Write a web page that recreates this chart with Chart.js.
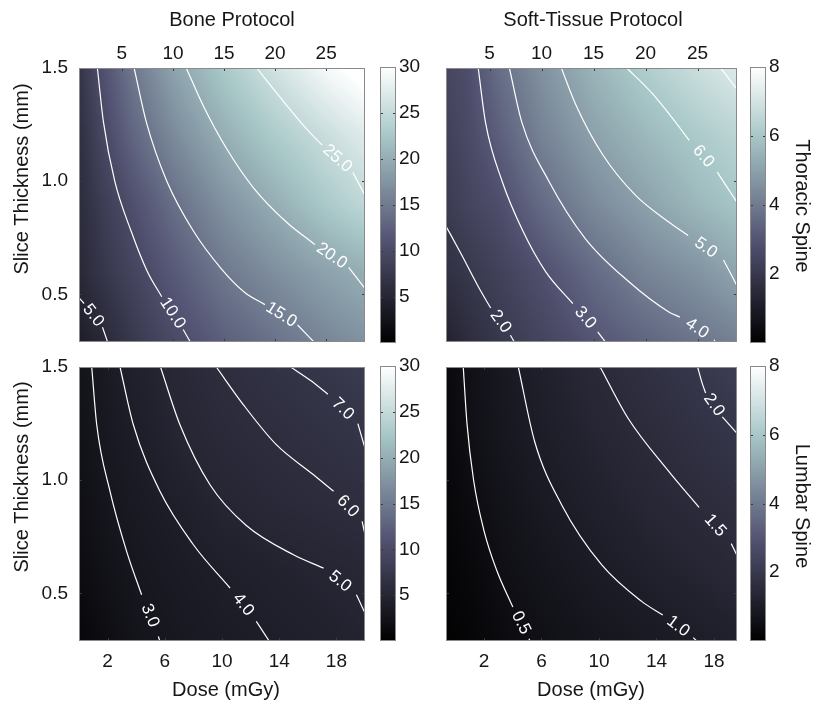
<!DOCTYPE html>
<html>
<head>
<meta charset="utf-8">
<script src="https://cdn.jsdelivr.net/npm/chart.js@4.4.0/dist/chart.umd.min.js"></script>
<style>
  html, body { margin: 0; padding: 0; background: #fff; }
  #wrap { position: relative; width: 815px; height: 705px; }
  #wrap canvas { position: absolute; left: 0; top: 0; }
</style>
</head>
<body>
<div id="wrap">
  <canvas id="tl" width="815" height="705"></canvas>
  <canvas id="tr" width="815" height="705"></canvas>
  <canvas id="bl" width="815" height="705"></canvas>
  <canvas id="br" width="815" height="705"></canvas>
  <canvas id="cbTl" width="815" height="705"></canvas>
  <canvas id="cbTr" width="815" height="705"></canvas>
  <canvas id="cbBl" width="815" height="705"></canvas>
  <canvas id="cbBr" width="815" height="705"></canvas>
</div>
<script>
// ---- axes ----
const thickRange = [0.29, 1.5];
const thickTicks = [0.5, 1.0, 1.5];
const doseTopRange = [0.8, 28.8];
const doseTopTicks = [5, 10, 15, 20, 25];
const doseBoneBottomRange = [0, 20];
const doseSoftBottomRange = [-0.64, 19.6];
const doseBottomTicks = [2, 6, 10, 14, 18];
const boneBarTicks = [5, 10, 15, 20, 25, 30];
const softBarTicks = [2, 4, 6, 8];

// ---- background values (rows = thickness, cols = dose) ----
const gridThick = [0.29, 0.6, 0.9, 1.2, 1.5];
const gridDoseTop = [0.8, 3, 6, 10, 15, 20, 25, 28.8];
const gridDoseBoneBottom = [0, 2, 4, 7, 10, 14, 18, 20];
const gridDoseSoftBottom = [-0.64, 1.38, 3.41, 6.44, 9.48, 13.52, 17.57, 19.6];

const thoracicBone = [
  [4.0, 5.2, 7.5, 9.9, 12.3, 14.2, 16.1, 17.3],
  [5.3, 7.2, 9.1, 11.7, 14.8, 17.0, 18.9, 20.1],
  [5.9, 8.0, 10.6, 13.8, 17.3, 20.0, 22.8, 24.6],
  [6.3, 9.4, 12.9, 16.5, 20.1, 23.0, 25.4, 27.2],
  [7.0, 10.6, 14.7, 18.9, 22.7, 26.1, 29.2, 31.0]
];
const thoracicSoft = [
  [1.2, 1.6, 2.0, 2.45, 3.0, 3.45, 3.85, 4.15],
  [1.75, 2.0, 2.35, 2.85, 3.6, 4.25, 4.65, 5.1],
  [2.1, 2.45, 2.8, 3.6, 4.4, 5.0, 5.6, 5.95],
  [2.3, 2.65, 3.3, 4.2, 5.0, 5.6, 6.1, 6.45],
  [2.5, 2.8, 3.7, 4.6, 5.5, 6.2, 6.8, 7.2]
];
const lumbarBone = [
  [1.0, 1.8, 2.6, 3.2, 3.6, 4.05, 4.5, 4.75],
  [1.6, 2.4, 3.05, 3.6, 4.1, 4.6, 5.05, 5.25],
  [2.0, 2.9, 3.45, 4.2, 4.95, 5.55, 5.95, 6.15],
  [2.3, 3.25, 3.95, 4.98, 5.6, 6.12, 6.75, 7.05],
  [2.5, 3.55, 4.4, 5.35, 6.07, 6.85, 7.5, 7.8]
];
const lumbarSoft = [
  [0.08, 0.22, 0.4, 0.58, 0.74, 0.9, 1.07, 1.15],
  [0.15, 0.33, 0.54, 0.76, 0.95, 1.16, 1.35, 1.45],
  [0.25, 0.45, 0.68, 0.94, 1.14, 1.38, 1.57, 1.66],
  [0.3, 0.58, 0.82, 1.07, 1.3, 1.55, 1.8, 1.92],
  [0.35, 0.63, 0.88, 1.18, 1.45, 1.74, 2.03, 2.15]
];

// ---- contour lines [dose, thickness]; null = where the inline label sits ----
const thoracicBoneLines = [
  { label: "25.0", pts: [[18.2,1.5],[20.5,1.37],[23.1,1.23],[24.6,1.16],null,[27.6,1.04],[28.9,0.93]] },
  { label: "20.0", pts: [[11.3,1.5],[13.0,1.33],[15.3,1.14],[17.9,0.97],[21.1,0.82],[23.9,0.72],null,[27.2,0.62],[28.9,0.52]] },
  { label: "15.0", pts: [[6.2,1.5],[7.4,1.26],[9.4,1.0],[12.0,0.78],[14.8,0.61],[17.0,0.51],[19.0,0.455],null,[22.2,0.365],[23.8,0.29]] },
  { label: "10.0", pts: [[2.6,1.5],[3.2,1.26],[4.3,1.0],[5.9,0.78],[7.5,0.6],[8.9,0.49],null,[11.0,0.345],[11.7,0.29]] },
  { label: "5.0", pts: [[0.7,0.49],[1.3,0.46],null,[3.1,0.355],[3.6,0.29]] }
];
const thoracicSoftLines = [
  { label: "", pts: [[26.9,1.52],[28.9,1.40]] },
  { label: "6.0", pts: [[18.2,1.5],[20.6,1.39],[22.9,1.26],[24.2,1.18],null,[26.9,1.04],[28.9,0.9]] },
  { label: "5.0", pts: [[11.9,1.5],[13.3,1.337],[15.9,1.116],[19.0,0.94],[22.2,0.821],[24.1,0.76],null,[27.5,0.652],[28.9,0.53]] },
  { label: "4.0", pts: [[6.9,1.5],[8.1,1.26],[10.7,1.0],[14.2,0.747],[18.4,0.556],[22.2,0.424],[23.3,0.4],null,[26.6,0.30],[26.8,0.28]] },
  { label: "3.0", pts: [[3.9,1.5],[4.6,1.26],[6.2,1.0],[8.2,0.78],[10.4,0.6],[13.0,0.46],null,[15.4,0.335],[16.3,0.28]] },
  { label: "2.0", pts: [[0.7,0.81],[2.3,0.675],[3.9,0.535],[5.1,0.44],null,[7.0,0.32],[7.5,0.28]] }
];
const lumbarBoneLines = [
  { label: "7.0", pts: [[14.8,1.5],[16.2,1.44],[17.4,1.38],null,[19.5,1.25],[20.1,1.12]] },
  { label: "6.0", pts: [[9.6,1.5],[11.5,1.333],[13.8,1.157],[16.4,1.024],[17.8,0.951],null,[19.8,0.818],[20.1,0.73]] },
  { label: "5.0", pts: [[5.7,1.5],[7.06,1.245],[9.16,0.98],[11.7,0.80],[15.0,0.671],[17.1,0.612],null,[19.4,0.494],[20.1,0.40]] },
  { label: "4.0", pts: [[2.87,1.5],[3.8,1.245],[5.66,0.951],[8.0,0.715],[10.56,0.524],null,[12.4,0.377],[13.4,0.28]] },
  { label: "3.0", pts: [[0.89,1.5],[1.24,1.245],[2.17,0.951],[3.33,0.686],[4.38,0.494],null,[5.55,0.31],[5.7,0.28]] }
];
const lumbarSoftLines = [
  { label: "2.0", pts: [[16.86,1.5],[17.17,1.43],[17.42,1.385],null,[18.58,1.28],[19.7,1.2]] },
  { label: "1.5", pts: [[10.08,1.5],[12.01,1.275],[14.84,1.04],[16.96,0.88],null,[19.2,0.72],[19.7,0.655]] },
  { label: "1.0", pts: [[4.39,1.5],[5.53,1.17],[7.4,0.892],[10.18,0.627],[12.97,0.465],[14.44,0.405],null,[16.56,0.305],[16.96,0.28]] },
  { label: "0.5", pts: [[0.56,1.5],[0.82,1.25],[1.28,1.0],[1.99,0.78],[2.9,0.6],[4.01,0.44],null,[5.13,0.30],[5.28,0.28]] }
];

// ---- styling helpers ----
const FONT = "'Liberation Sans', Arial, sans-serif";
const INK = "#161616";

function bone(f) {
  f = Math.min(1, Math.max(0, f));
  const r = Math.min(1, f / 0.375);
  const g = Math.min(1, Math.max(0, (f - 0.375) / 0.375));
  const b = Math.max(0, (f - 0.75) / 0.25);
  return [(7 * f + b) / 8 * 255, (7 * f + g) / 8 * 255, (7 * f + r) / 8 * 255];
}

function lookup(xs, ys, z, x, y) {
  let i = 0, j = 0;
  while (i < xs.length - 2 && x > xs[i + 1]) i++;
  while (j < ys.length - 2 && y > ys[j + 1]) j++;
  const u = Math.min(1, Math.max(0, (x - xs[i]) / (xs[i + 1] - xs[i])));
  const v = Math.min(1, Math.max(0, (y - ys[j]) / (ys[j + 1] - ys[j])));
  return z[j][i] * (1 - u) * (1 - v) + z[j][i + 1] * u * (1 - v) +
         z[j + 1][i] * (1 - u) * v + z[j + 1][i + 1] * u * v;
}

function fieldPlugin(xs, ys, z, vmax) {
  return {
    id: "field",
    beforeDatasetsDraw(chart) {
      const a = chart.chartArea, sx = chart.scales.x, sy = chart.scales.y;
      const w = Math.round(a.right - a.left), h = Math.round(a.bottom - a.top);
      const off = document.createElement("canvas");
      off.width = w; off.height = h;
      const octx = off.getContext("2d");
      const img = octx.createImageData(w, h);
      for (let py = 0; py < h; py++) {
        const t = sy.getValueForPixel(a.top + py + 0.5);
        for (let px = 0; px < w; px++) {
          const d = sx.getValueForPixel(a.left + px + 0.5);
          const c = bone(lookup(xs, ys, z, d, t) / vmax);
          const k = (py * w + px) * 4;
          img.data[k] = c[0]; img.data[k + 1] = c[1]; img.data[k + 2] = c[2]; img.data[k + 3] = 255;
        }
      }
      octx.putImageData(img, 0, 0);
      chart.ctx.drawImage(off, a.left, a.top);
    }
  };
}

// inline contour labels, centred in the gap left in each line
const contourLabels = {
  id: "contourLabels",
  afterDatasetsDraw(chart) {
    const ctx = chart.ctx, sx = chart.scales.x, sy = chart.scales.y;
    chart.data.datasets.forEach(ds => {
      const i = ds.data.findIndex(p => p.x === null);
      if (i < 1 || !ds.label) return;
      const p1 = ds.data[i - 1], p2 = ds.data[i + 1];
      const x1 = sx.getPixelForValue(p1.x), y1 = sy.getPixelForValue(p1.y);
      const x2 = sx.getPixelForValue(p2.x), y2 = sy.getPixelForValue(p2.y);
      let ang = Math.atan2(y2 - y1, x2 - x1);
      if (ang > Math.PI / 2) ang -= Math.PI;
      if (ang < -Math.PI / 2) ang += Math.PI;
      ctx.save();
      ctx.translate((x1 + x2) / 2, (y1 + y2) / 2);
      ctx.rotate(ang);
      ctx.fillStyle = "#fff";
      ctx.font = "17px " + FONT;
      ctx.textAlign = "center";
      ctx.textBaseline = "middle";
      ctx.fillText(ds.label, 0, 0);
      ctx.restore();
    });
  }
};

// box with small inward tick marks on every side
const frame = {
  id: "frame",
  afterDraw(chart) {
    const ctx = chart.ctx, a = chart.chartArea;
    ctx.save();
    ctx.strokeStyle = "#3a3a3a";
    ctx.lineWidth = 1;
    ctx.beginPath();
    const sx = chart.scales.x, sy = chart.scales.y;
    if (sx.options.display !== false) {
      sx.ticks.forEach(t => {
        const x = Math.round(sx.getPixelForValue(t.value)) + 0.5;
        ctx.moveTo(x, a.top); ctx.lineTo(x, a.top + 3);
        ctx.moveTo(x, a.bottom); ctx.lineTo(x, a.bottom - 3);
      });
    }
    sy.ticks.forEach(t => {
      const y = Math.round(sy.getPixelForValue(t.value)) + 0.5;
      ctx.moveTo(a.left, y); ctx.lineTo(a.left + 3, y);
      ctx.moveTo(a.right, y); ctx.lineTo(a.right - 3, y);
    });
    ctx.stroke();
    ctx.strokeStyle = "#8a8a8a";
    ctx.strokeRect(a.left + 0.5, a.top + 0.5, a.right - a.left - 1, a.bottom - a.top - 1);
    ctx.restore();
  }
};

// free text (titles), placed relative to the chart area
function textPlugin(items) {
  return {
    id: "texts",
    afterDraw(chart) {
      const ctx = chart.ctx, a = chart.chartArea;
      items.forEach(it => {
        ctx.save();
        ctx.translate(a.left + it.dx, a.top + it.dy);
        ctx.rotate(it.rot || 0);
        ctx.fillStyle = INK;
        ctx.font = (it.size || 20) + "px " + FONT;
        ctx.textAlign = "center";
        ctx.textBaseline = "middle";
        ctx.fillText(it.text, 0, 0);
        ctx.restore();
      });
    }
  };
}

const tickFont = { family: FONT, size: 19 };

function panel(id, o) {
  const top = o.xPos === "top";
  return new Chart(document.getElementById(id), {
    type: "scatter",
    data: {
      datasets: o.lines.map(c => ({
        label: c.label,
        data: c.pts.map(p => p ? { x: p[0], y: p[1] } : { x: null, y: null }),
        showLine: true,
        borderColor: "#ffffff",
        borderWidth: 1.2,
        pointRadius: 0,
        cubicInterpolationMode: "monotone",
        spanGaps: false,
        clip: 0
      }))
    },
    options: {
      responsive: false,
      animation: false,
      devicePixelRatio: 1,
      events: [],
      layout: { padding: o.pad },
      plugins: { legend: { display: false }, tooltip: { enabled: false } },
      scales: {
        x: {
          type: "linear",
          position: o.xPos,
          min: o.xRange[0], max: o.xRange[1],
          afterBuildTicks: s => { s.ticks = o.xTicks.map(v => ({ value: v })); },
          afterFit: s => { s.height = 30; },
          grid: { display: false, drawTicks: false },
          border: { display: false },
          ticks: { font: tickFont, color: INK, padding: top ? 3 : 9, maxRotation: 0 }
        },
        y: {
          type: "linear",
          min: thickRange[0], max: thickRange[1],
          afterBuildTicks: s => { s.ticks = thickTicks.map(v => ({ value: v })); },
          afterFit: s => { s.width = o.yLabels ? 45 : 10; },
          grid: { display: false, drawTicks: false },
          border: { display: false },
          ticks: { display: o.yLabels, font: tickFont, color: INK, padding: 11, callback: v => v.toFixed(1) }
        }
      }
    },
    plugins: [fieldPlugin(o.gx, gridThick, o.z, o.vmax), contourLabels, frame, textPlugin(o.texts)]
  });
}

function colorBar(id, o) {
  return new Chart(document.getElementById(id), {
    type: "scatter",
    data: { datasets: [] },
    options: {
      responsive: false,
      animation: false,
      devicePixelRatio: 1,
      events: [],
      layout: { padding: o.pad },
      plugins: { legend: { display: false }, tooltip: { enabled: false } },
      scales: {
        x: { display: false, min: 0, max: 1 },
        y: {
          position: "right",
          min: 0, max: o.vmax,
          afterBuildTicks: s => { s.ticks = o.ticks.map(v => ({ value: v })); },
          afterFit: s => { s.width = 40; },
          grid: { display: false, drawTicks: false },
          border: { display: false },
          ticks: { font: tickFont, color: INK, padding: 3 }
        }
      }
    },
    plugins: [{
      id: "bar",
      beforeDatasetsDraw(chart) {
        const ctx = chart.ctx, a = chart.chartArea, sy = chart.scales.y;
        for (let py = Math.floor(a.top); py < a.bottom; py++) {
          const c = bone(sy.getValueForPixel(py + 0.5) / o.vmax);
          ctx.fillStyle = "rgb(" + c.map(Math.round).join(",") + ")";
          ctx.fillRect(a.left, py, a.right - a.left, 1);
        }
      }
    }, frame, textPlugin(o.texts)]
  });
}

panel("tl", {
  xPos: "top", xRange: doseTopRange, xTicks: doseTopTicks, yLabels: true,
  gx: gridDoseTop, z: thoracicBone, vmax: 30, lines: thoracicBoneLines,
  pad: { left: 34, top: 38, right: 450, bottom: 363 },
  texts: [
    { text: "Bone Protocol", dx: 153, dy: -48 },
    { text: "Slice Thickness (mm)", dx: -57, dy: 111, rot: -Math.PI / 2 }
  ]
});
panel("tr", {
  xPos: "top", xRange: doseTopRange, xTicks: doseTopTicks, yLabels: false,
  gx: gridDoseTop, z: thoracicSoft, vmax: 8, lines: thoracicSoftLines,
  pad: { left: 436, top: 38, right: 78, bottom: 363 },
  texts: [{ text: "Soft-Tissue Protocol", dx: 147, dy: -48 }]
});
panel("bl", {
  xPos: "bottom", xRange: doseBoneBottomRange, xTicks: doseBottomTicks, yLabels: true,
  gx: gridDoseBoneBottom, z: lumbarBone, vmax: 30, lines: lumbarBoneLines,
  pad: { left: 34, top: 367, right: 450, bottom: 34 },
  texts: [
    { text: "Dose (mGy)", dx: 147, dy: 323 },
    { text: "Slice Thickness (mm)", dx: -57, dy: 110, rot: -Math.PI / 2 }
  ]
});
panel("br", {
  xPos: "bottom", xRange: doseSoftBottomRange, xTicks: doseBottomTicks, yLabels: false,
  gx: gridDoseSoftBottom, z: lumbarSoft, vmax: 8, lines: lumbarSoftLines,
  pad: { left: 436, top: 367, right: 78, bottom: 34 },
  texts: [{ text: "Dose (mGy)", dx: 145, dy: 323 }]
});

colorBar("cbTl", { vmax: 30, ticks: boneBarTicks, pad: { left: 380, top: 67, right: 379, bottom: 362 }, texts: [] });
colorBar("cbTr", { vmax: 8, ticks: softBarTicks, pad: { left: 750, top: 67, right: 9, bottom: 362 },
  texts: [{ text: "Thoracic Spine", dx: 52, dy: 139, rot: Math.PI / 2 }] });
colorBar("cbBl", { vmax: 30, ticks: boneBarTicks, pad: { left: 380, top: 366, right: 379, bottom: 64 }, texts: [] });
colorBar("cbBr", { vmax: 8, ticks: softBarTicks, pad: { left: 750, top: 366, right: 9, bottom: 64 },
  texts: [{ text: "Lumbar Spine", dx: 52, dy: 140, rot: Math.PI / 2 }] });
</script>
</body>
</html>
